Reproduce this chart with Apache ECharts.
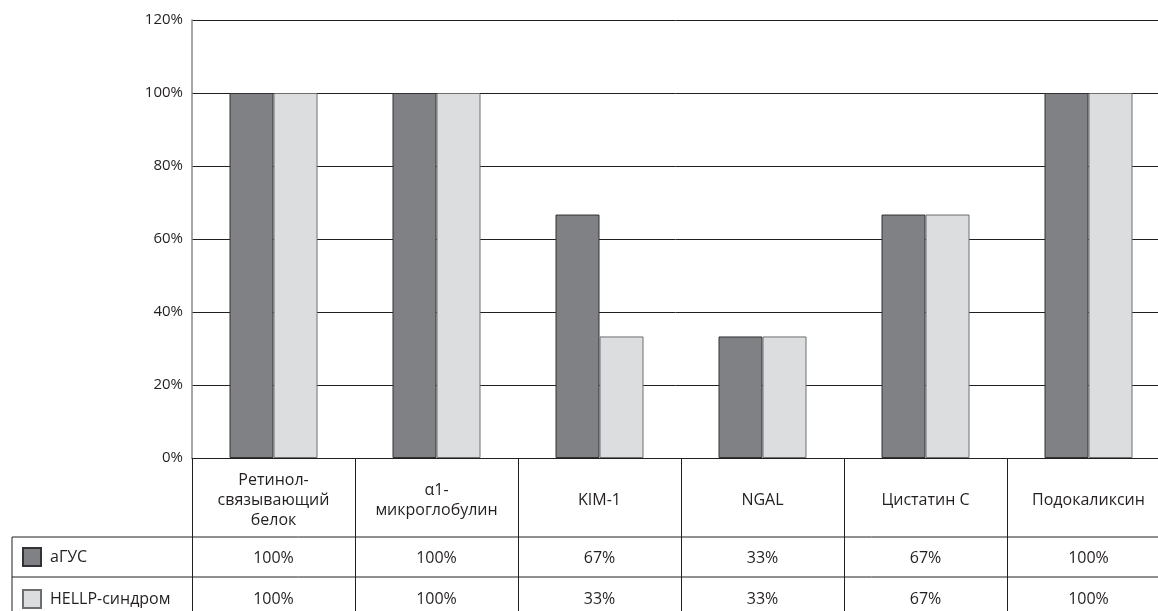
<!DOCTYPE html>
<html>
<head>
<meta charset="utf-8">
<script src="https://cdn.jsdelivr.net/npm/echarts@6/dist/echarts.min.js"></script>
<style>
html,body{margin:0;padding:0;background:#fff;}
#chart{width:1158px;height:611px;}
</style>
</head>
<body>
<div id="chart"></div>
<script>
var categories = ['Ретинол-\nсвязывающий\nбелок', 'α1-\nмикроглобулин', 'KIM-1', 'NGAL', 'Цистатин С', 'Подокаликсин'];
var seriesNames = ['аГУС', 'HELLP-синдром'];
var aHUS = [100, 100, 66.7, 33.3, 66.7, 100];
var hellp = [100, 100, 33.3, 33.3, 66.7, 100];
var yTicks = [0, 20, 40, 60, 80, 100, 120];

var FONT = '"Open Sans", "Noto Sans", sans-serif';
var TXT = '#231f20';
function pct(v){ return Math.round(v) + '%'; }

var chart = echarts.init(document.getElementById('chart'));
var gridLeft = 192, gridTop = 20, gridW = 978, gridH = 438;
var row0 = gridTop + gridH;   // 458
var row1 = row0 + 79;         // 537
var row2 = row1 + 40;         // 577

chart.setOption({
  animation: false,
  textStyle: { fontFamily: FONT },
  grid: { left: gridLeft, top: gridTop, width: gridW, height: gridH, containLabel: false, outerBoundsMode: 'none' },
  legend: {
    data: seriesNames,
    orient: 'vertical',
    left: 22, top: row1 + 10, padding: 0,
    itemWidth: 18, itemHeight: 18, itemGap: 22,
    icon: 'rect',
    selectedMode: false,
    textStyle: { fontFamily: FONT, fontSize: 16, color: TXT, padding: [0, 0, 0, 4] }
  },
  xAxis: [
    {
      type: 'category', data: categories, position: 'bottom',
      axisLine: { show: true, lineStyle: { color: TXT, width: 1 } },
      axisTick: { show: true, length: 160, lineStyle: { color: TXT, width: 1 } },
      axisLabel: { interval: 0, margin: 42, verticalAlign: 'middle', fontFamily: FONT, fontSize: 16, color: TXT, lineHeight: 20, align: 'center' }
    },
    {
      type: 'category', data: categories, position: 'bottom', offset: row1 - row0,
      axisLine: { show: false }, axisTick: { show: false },
      axisLabel: { interval: 0, margin: 21, verticalAlign: 'middle', fontFamily: FONT, fontSize: 16, color: TXT,
        formatter: function (v, i) { return pct(aHUS[i]); } }
    },
    {
      type: 'category', data: categories, position: 'bottom', offset: row2 - row0,
      axisLine: { show: false }, axisTick: { show: false },
      axisLabel: { interval: 0, margin: 22, verticalAlign: 'middle', fontFamily: FONT, fontSize: 16, color: TXT,
        formatter: function (v, i) { return pct(hellp[i]); } }
    }
  ],
  yAxis: {
    type: 'value', min: yTicks[0], max: yTicks[yTicks.length - 1], interval: 20,
    axisLine: { show: true, lineStyle: { color: '#8a8a8c', width: 1.5 } },
    axisTick: { show: false },
    axisLabel: { formatter: '{value}%', margin: 9, fontFamily: FONT, fontSize: 15, color: TXT },
    splitLine: { show: true, lineStyle: { color: TXT, width: 1 } }
  },
  series: [
    {
      name: seriesNames[0], type: 'bar', data: aHUS, xAxisIndex: 0,
      barWidth: 44, barGap: '0%',
      itemStyle: { color: '#808185', borderColor: '#333335', borderWidth: 1 }
    },
    {
      name: seriesNames[1], type: 'bar', data: hellp, xAxisIndex: 0,
      barWidth: 44, barGap: '0%',
      itemStyle: { color: '#dcdddf', borderColor: '#6d6e70', borderWidth: 1 }
    }
  ],
  graphic: [
    { type: 'line', shape: { x1: 12, y1: row1, x2: 1158, y2: row1 }, style: { stroke: TXT, lineWidth: 1 } },
    { type: 'line', shape: { x1: 12, y1: row2, x2: 1158, y2: row2 }, style: { stroke: TXT, lineWidth: 1 } },
    { type: 'line', shape: { x1: 12, y1: row1, x2: 12, y2: 611 }, style: { stroke: TXT, lineWidth: 1 } }
  ]
});
</script>
</body>
</html>
